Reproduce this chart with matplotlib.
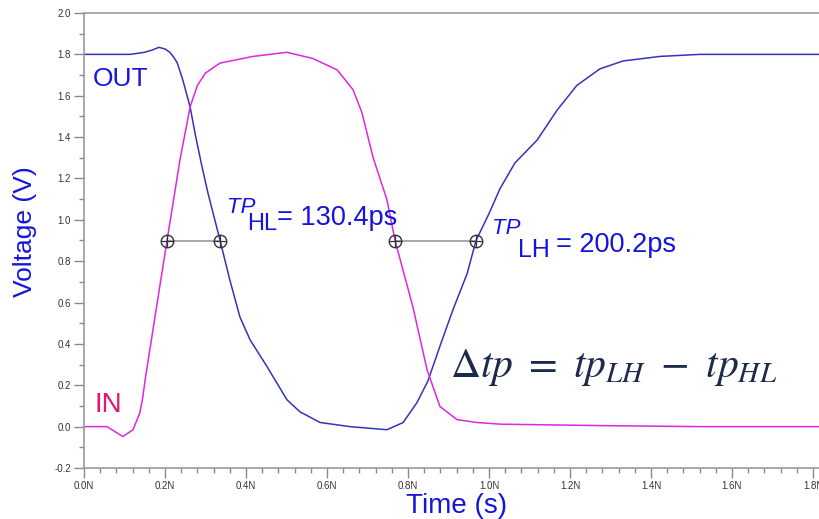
import numpy as np
import matplotlib
matplotlib.use('Agg')
import matplotlib.pyplot as plt

# time in ns, voltage in V
t_out = [0.0, 0.114, 0.15, 0.17, 0.185, 0.2, 0.212, 0.222, 0.23, 0.244, 0.262, 0.274,
         0.291, 0.306, 0.323, 0.336, 0.36, 0.385, 0.41, 0.452, 0.501, 0.533, 0.583,
         0.657, 0.748, 0.788, 0.822, 0.849, 0.879, 0.911, 0.946, 0.968, 1.0, 1.027,
         1.064, 1.119, 1.168, 1.217, 1.274, 1.331, 1.422, 1.521, 1.85]
v_out = [1.8, 1.8, 1.81, 1.822, 1.834, 1.826, 1.81, 1.785, 1.76, 1.676, 1.546, 1.42,
         1.26, 1.13, 1.0, 0.9, 0.71, 0.53, 0.42, 0.29, 0.13, 0.072, 0.02,
         0.0, -0.015, 0.02, 0.116, 0.22, 0.39, 0.565, 0.74, 0.9, 1.03, 1.15,
         1.275, 1.386, 1.53, 1.65, 1.73, 1.768, 1.79, 1.8, 1.8]

t_in = [0.0, 0.057, 0.077, 0.096, 0.121, 0.138, 0.145, 0.151, 0.178, 0.205, 0.237,
        0.262, 0.28, 0.3, 0.336, 0.417, 0.501, 0.565, 0.625, 0.664, 0.686, 0.714, 0.748,
        0.768, 0.812, 0.847, 0.879, 0.921, 0.97, 1.027, 1.274, 1.52, 1.85]
v_in = [0.0, 0.0, -0.025, -0.048, -0.015, 0.068, 0.14, 0.227, 0.565, 0.9, 1.29,
        1.546, 1.65, 1.71, 1.758, 1.79, 1.81, 1.78, 1.725, 1.63, 1.52, 1.30, 1.097,
        0.9, 0.58, 0.275, 0.097, 0.034, 0.02, 0.012, 0.005, 0.0, 0.0]

# 50% crossing points (ns, V)
hl_t = [0.205, 0.336]
lh_t = [0.768, 0.968]
v_mid = 0.9

x_ticks = [0.0, 0.2, 0.4, 0.6, 0.8, 1.0, 1.2, 1.4, 1.6, 1.8]
y_ticks = [-0.2, 0.0, 0.2, 0.4, 0.6, 0.8, 1.0, 1.2, 1.4, 1.6, 1.8, 2.0]

plt.rcParams['font.family'] = ['Liberation Sans', 'DejaVu Sans']
plt.rcParams['mathtext.fontset'] = 'stix'

fig = plt.figure(figsize=(8.2, 5.19), dpi=100)
ax = fig.add_axes([84/820, 51/519, 736/820, 455/519])

ax.plot(t_out, v_out, color='#3434b8', lw=1.1)
ax.plot(t_in, v_in, color='#e026e0', lw=1.1)

for pair in (hl_t, lh_t):
    ax.plot(pair, [v_mid, v_mid], color='#999999', lw=1.2)
    ax.plot(pair, [v_mid, v_mid], 'o', ms=9, mfc='none', mec='#333333', mew=1.0)
    ax.plot(pair, [v_mid, v_mid], '+', ms=9, mec='#333333', mew=0.9)

ax.set_xlim(0, 736/405)
ax.set_ylim(-0.2, 2.0)
ax.set_xticks(x_ticks)
ax.set_xticklabels(['%.1fN' % v for v in x_ticks])
ax.set_yticks(y_ticks)
ax.set_yticklabels(['%.1f' % v for v in y_ticks])
ax.set_xticks(np.arange(0, 1.82, 0.04), minor=True)
ax.set_yticks(np.arange(-0.2, 2.01, 0.1), minor=True)
ax.tick_params(which='major', direction='out', length=7, width=1, color='#888888',
               labelsize=7, labelcolor='#333333', pad=2.5)
ax.tick_params(which='minor', direction='out', length=3.5, width=1, color='#888888')
for s in ['left', 'bottom', 'top']:
    ax.spines[s].set_color('#999999')
    ax.spines[s].set_linewidth(1.2)
ax.spines['right'].set_visible(False)

blue = '#1414dc'
ax.text(0.022, 1.647, 'OUT', color=blue, fontsize=19)
ax.text(0.027, 0.072, 'IN', color='#e5156b', fontsize=20)

# TP_HL label
ax.text(0.353, 1.034, 'TP', color=blue, fontsize=16, style='italic')
ax.text(0.402, 0.952, 'HL', color=blue, fontsize=17)
ax.text(0.476, 0.976, '= 130.4ps', color=blue, fontsize=19.5)
# TP_LH label
ax.text(1.007, 0.932, 'TP', color=blue, fontsize=16, style='italic')
ax.text(1.072, 0.821, 'LH', color=blue, fontsize=18)
ax.text(1.165, 0.845, '= 200.2ps', color=blue, fontsize=19.5)

ax.text(0.904, 0.242, r'$\Delta tp\ =\ tp_{LH}\ -\ tp_{HL}$', color='#1c2a4c',
        fontsize=30)

fig.text(25/820, 1 - 232/519, 'Voltage (V)', color=blue, fontsize=19,
         rotation=90, ha='center', va='center')
fig.text(457/820, 1 - 506/519, 'Time (s)', color=blue, fontsize=20,
         ha='center', va='center')

fig.savefig('out.png', dpi=100)
